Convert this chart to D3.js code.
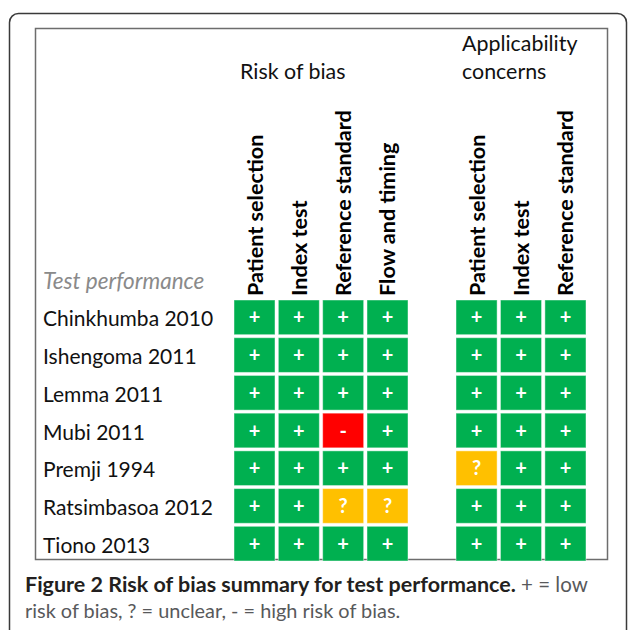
<!DOCTYPE html>
<html>
<head>
<meta charset="utf-8">
<script src="https://cdn.jsdelivr.net/npm/d3@7"></script>
<style>
  body { margin: 0; background: #fff; }
  svg { display: block; }
</style>
</head>
<body>
<svg id="chart" width="629" height="630"></svg>
<script>
// study rows
const studies = ["Chinkhumba 2010", "Ishengoma 2011", "Lemma 2011", "Mubi 2011",
  "Premji 1994", "Ratsimbasoa 2012", "Tiono 2013"];
const biasDomains = ["Patient selection", "Index test", "Reference standard", "Flow and timing"];
const applicDomains = ["Patient selection", "Index test", "Reference standard"];
// judgements: + low, ? unclear, - high
const biasJudge = [
  ["+", "+", "+", "+"],
  ["+", "+", "+", "+"],
  ["+", "+", "+", "+"],
  ["+", "+", "-", "+"],
  ["+", "+", "+", "+"],
  ["+", "+", "?", "?"],
  ["+", "+", "+", "+"]
];
const applicJudge = [
  ["+", "+", "+"],
  ["+", "+", "+"],
  ["+", "+", "+"],
  ["+", "+", "+"],
  ["?", "+", "+"],
  ["+", "+", "+"],
  ["+", "+", "+"]
];

const fill = {"+": "#00b050", "?": "#ffc000", "-": "#ff0000"};
const font = "Lato, 'Open Sans', sans-serif";

const svg = d3.select("#chart");

// frames
svg.append("rect")
  .attr("x", 9.5).attr("y", 13.5).attr("width", 617).attr("height", 640)
  .attr("rx", 9).attr("fill", "none").attr("stroke", "#3a3a3a").attr("stroke-width", 1.5);
svg.append("rect")
  .attr("x", 35.5).attr("y", 28.5).attr("width", 572).attr("height", 531)
  .attr("fill", "none").attr("stroke", "#6d6d6d").attr("stroke-width", 1.5);

const y = d3.scaleBand().domain(studies).range([300, 561]).paddingInner(0.08);
const xBias = d3.scaleBand().domain(biasDomains).range([234, 408]).paddingInner(0.075);
const xApp = d3.scaleBand().domain(applicDomains).range([456, 586]).paddingInner(0.075);

// row labels
svg.append("g").selectAll("text").data(studies).join("text")
  .attr("x", 43)
  .attr("y", d => y(d) + y.bandwidth() / 2 + 9)
  .attr("font-family", font).attr("font-size", 21).attr("fill", "#111")
  .text(d => d);

svg.append("text")
  .attr("x", 43).attr("y", 289)
  .attr("font-family", font).attr("font-size", 22.5).attr("font-style", "italic")
  .attr("fill", "#8a8a8a")
  .text("Test performance");

// group titles
svg.append("text").attr("x", 240).attr("y", 79)
  .attr("font-family", font).attr("font-size", 21.4).attr("fill", "#111")
  .text("Risk of bias");
const appTitle = svg.append("text").attr("font-family", font).attr("font-size", 21.4).attr("fill", "#111");
appTitle.append("tspan").attr("x", 462).attr("y", 51).text("Applicability");
appTitle.append("tspan").attr("x", 462).attr("y", 79).text("concerns");

function drawGroup(x, domains, judge) {
  const g = svg.append("g");
  // rotated column headers
  g.selectAll("text.hdr").data(domains).join("text")
    .attr("class", "hdr")
    .attr("transform", d => `translate(${x(d) + x.bandwidth() / 2 + 8},296) rotate(-90)`)
    .attr("font-family", font).attr("font-size", 21.6).attr("font-weight", "bold")
    .attr("fill", "#000")
    .text(d => d);

  const cells = [];
  judge.forEach((row, i) => row.forEach((v, j) => cells.push({study: studies[i], dom: domains[j], v})));

  g.selectAll("rect").data(cells).join("rect")
    .attr("x", d => x(d.dom)).attr("y", d => y(d.study))
    .attr("width", x.bandwidth()).attr("height", y.bandwidth())
    .attr("fill", d => fill[d.v])
    .attr("stroke", "#ffffff").attr("stroke-opacity", 0.45).attr("stroke-width", 1);

  g.selectAll("text.sym").data(cells).join("text")
    .attr("class", "sym")
    .attr("x", d => x(d.dom) + x.bandwidth() / 2)
    .attr("y", d => y(d.study) + y.bandwidth() / 2 + 7)
    .attr("text-anchor", "middle")
    .attr("font-family", font).attr("font-size", 20).attr("font-weight", "bold")
    .attr("fill", "#fff")
    .text(d => d.v);
}
drawGroup(xBias, biasDomains, biasJudge);
drawGroup(xApp, applicDomains, applicJudge);

// caption
const cap1 = svg.append("text").attr("x", 25).attr("y", 592)
  .attr("font-family", font).attr("font-size", 21.5);
cap1.append("tspan").attr("font-weight", "bold").attr("fill", "#231f20")
  .text("Figure 2 ");
cap1.append("tspan").attr("font-weight", "bold").attr("fill", "#231f20")
  .text("Risk of bias summary for test performance.");
cap1.append("tspan").attr("fill", "#58595b").attr("font-size", 20.5).text(" + = low");
svg.append("text").attr("x", 25).attr("y", 618)
  .attr("font-family", font).attr("font-size", 19.9).attr("fill", "#58595b")
  .text("risk of bias, ? = unclear, - = high risk of bias.");
</script>
</body>
</html>
